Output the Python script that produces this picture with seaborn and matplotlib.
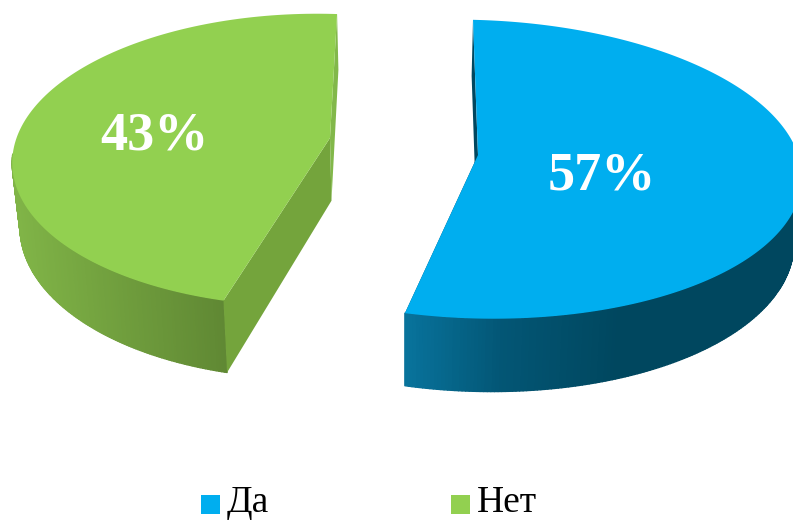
import numpy as np
import matplotlib
matplotlib.use("Agg")
import matplotlib.pyplot as plt
import matplotlib.transforms as mtransforms
from matplotlib.path import Path
from matplotlib.collections import PolyCollection
from matplotlib.colors import LinearSegmentedColormap
import seaborn as sns

categories = ["Да", "Нет"]
values = [57, 43]


class Rim(mtransforms.Transform):
    """Unit pie slice -> picture: the tip stays put, the rim runs along an ellipse."""
    input_dims = 2
    output_dims = 2

    def __init__(self, tip, center, axes_m, start, span, phi0, phi1):
        super().__init__()
        self.tip = tip
        self.center = center
        self.axes_m = np.array(axes_m)
        self.start, self.span = start, span
        self.phi0, self.phi1 = phi0, phi1

    def rim(self, theta):
        prog = (self.start - theta) % 360
        prog = np.where(prog > (self.span + 360) / 2, prog - 360, prog)
        phi = np.radians(self.phi0 + (self.phi1 - self.phi0) * prog / self.span)
        u = self.axes_m @ np.array([np.cos(phi), np.sin(phi)])
        return self.center[0] + u[0], self.center[1] - u[1]

    def transform_non_affine(self, values):
        r = np.hypot(values[:, 0], values[:, 1])
        ex, ey = self.rim(np.degrees(np.arctan2(values[:, 1], values[:, 0])))
        return np.column_stack([self.tip[0] + r * (ex - self.tip[0]), self.tip[1] + r * (ey - self.tip[1])])

    def transform_path_non_affine(self, path):
        big = path.transformed(mtransforms.Affine2D().scale(2000))
        return Path(self.transform_non_affine(big.to_polygons(closed_only=False)[0] / 2000))


def lower(px, py):
    # bottom face of the slab, seen from the top face
    return 404 + 0.98 * (px - 404), 1.056 * py + 55


sns.set_theme(style="white")
plt.rcParams["font.family"] = ["Liberation Serif", "DejaVu Serif"]
colors = sns.color_palette(["#00AEEF", "#92D050"])

fig = plt.figure(figsize=(7.93, 5.2), dpi=100)
ax = fig.add_axes([0, 0, 1, 1])

wedges, _, autotexts = ax.pie(values, colors=colors, startangle=90, counterclock=False,
                              autopct="%.0f%%", pctdistance=0.5,
                              wedgeprops={"linewidth": 0},
                              textprops={"color": "white", "fontsize": 39, "fontweight": "bold"})
ax.set_aspect("auto")
ax.set_xlim(0, 793)
ax.set_ylim(520, 0)
ax.axis("off")

tilts = [
    Rim((478, 155), (475.24, 169.17), [[326.7, -5.77], [-5.77, 149.43]], 90, 205.2, 89.38, -103.44),
    Rim((330, 138), (311.21, 160.01), [[299, 1.89], [1.89, 146.27]], -115.2, 154.8, -106.7, -274.6),
]
side_maps = [
    LinearSegmentedColormap.from_list("b", [(0, "#08739C"), (0.25, "#035675"), (0.55, "#00475F"), (1, "#00475F")]),
    LinearSegmentedColormap.from_list("g", [(0, "#80B447"), (1, "#5F8733")]),
]
side_ranges = [(405, 793), (15, 228)]
# colour of the cut faces: first and last edge of each slice
cut_colors = [["#00475F", "#00475F"], ["#74A43C", "#82B84A"]]
cut_z = [1, 2.5]
label_scale = [0.8, 1.1]
label_shift = [(-5, -6), (-3.5, 0)]

for i, w in enumerate(wedges):
    tr = tilts[i]
    w.set_transform(tr + ax.transData)
    w.set_zorder(3)
    at = autotexts[i]
    at.set_transform(tr + ax.transData + mtransforms.Affine2D().translate(*label_shift[i]))
    at.set_zorder(4)
    x0, y0 = at.get_position()
    at.set_position((x0 * label_scale[i], y0 * label_scale[i]))

    t = np.linspace(0, tr.span, 300)
    px, py = tr.rim(tr.start - t)
    qx, qy = lower(px, py)
    quads = []
    mids = []
    for j in range(len(t) - 1):
        # only the front of the rim shows
        if py[j] > tr.center[1] - 5:
            quads.append([(px[j], py[j]), (px[j + 1], py[j + 1]), (qx[j + 1], qy[j + 1]), (qx[j], qy[j])])
            mids.append((px[j] + px[j + 1]) / 2)
    lo, hi = side_ranges[i]
    cs = side_maps[i]((np.clip(mids, lo, hi) - lo) / (hi - lo))
    ax.add_collection(PolyCollection(quads, facecolors=cs, edgecolors=cs, linewidths=1, zorder=2))

    for n, j in enumerate([0, -1]):
        vx, vy = tr.tip
        lx, ly = lower(vx, vy)
        ax.fill([vx, px[j], qx[j], lx], [vy, py[j], qy[j], ly], color=cut_colors[i][n], lw=0, zorder=cut_z[i])

leg = ax.legend(wedges, categories, loc="lower left", bbox_to_anchor=(201 / 793, 0.0), ncol=2,
                frameon=False, fontsize=27, handlelength=0.5, handleheight=0.5,
                handletextpad=0.18, columnspacing=4.86, borderpad=0, borderaxespad=0,
                labelcolor="black")
for h in leg.legend_handles:
    h.set_y(h.get_y() - 3)
    h.set_height(13.7)

fig.savefig("out.png", dpi=100)
